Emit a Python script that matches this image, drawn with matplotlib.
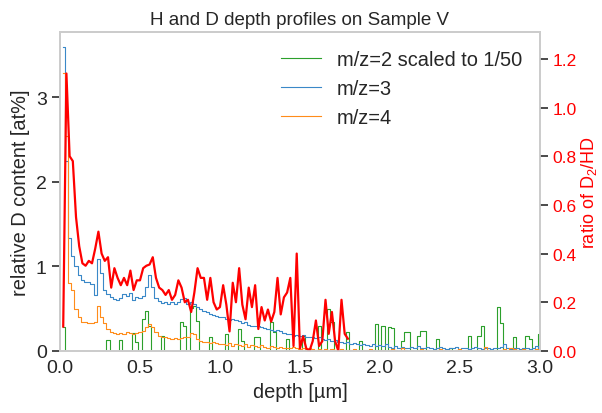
import numpy as np
import matplotlib
matplotlib.use("Agg")
import matplotlib.pyplot as plt

plt.rcParams['font.family'] = ['Liberation Sans', 'DejaVu Sans']
plt.rcParams['font.size'] = 14
plt.rcParams['mathtext.fontset'] = 'custom'
plt.rcParams['mathtext.rm'] = 'Liberation Sans'
plt.rcParams['text.color'] = '#262626'
plt.rcParams['axes.labelcolor'] = '#262626'
plt.rcParams['xtick.color'] = '#262626'
plt.rcParams['ytick.color'] = '#262626'

# depth bins (um), 0.02 um wide
depth = np.round(np.arange(1, 151) * 0.02, 2)

# m/z=3 (relative D content, at%)
mz3 = [3.59, 2.25, 1.34, 1.12, 1.00, 0.90, 0.84, 0.82, 0.81, 0.79,
       0.66, 1.09, 0.92, 0.72, 0.67, 0.64, 0.61, 0.60, 0.62, 0.67,
       0.65, 0.68, 0.60, 0.64, 0.62, 0.65, 0.76, 0.90, 0.75, 0.62,
       0.59, 0.57, 0.58, 0.56, 0.58, 0.56, 0.58, 0.61, 0.63, 0.56,
       0.58, 0.55, 0.52, 0.49, 0.47, 0.46, 0.44, 0.42, 0.41, 0.40,
       0.40, 0.38, 0.37, 0.38, 0.36, 0.35, 0.33, 0.34, 0.31, 0.30,
       0.29, 0.30, 0.28, 0.27, 0.26, 0.25, 0.24, 0.25, 0.23, 0.21,
       0.20, 0.20, 0.18, 0.19, 0.18, 0.19, 0.17, 0.16, 0.17, 0.15,
       0.16, 0.14, 0.13, 0.14, 0.12, 0.13, 0.11, 0.10, 0.09, 0.10,
       0.08, 0.09, 0.08, 0.07, 0.08, 0.07, 0.06, 0.08, 0.06, 0.07,
       0.06, 0.08, 0.05, 0.04, 0.06, 0.03, 0.05, 0.04, 0.03, 0.05,
       0.04, 0.06, 0.03, 0.04, 0.05, 0.03, 0.02, 0.04, 0.05, 0.03,
       0.02, 0.04, 0.03, 0.05, 0.02, 0.03, 0.04, 0.02, 0.03, 0.05,
       0.03, 0.02, 0.04, 0.03, 0.02, 0.04, 0.03, 0.05, 0.08, 0.03,
       0.02, 0.04, 0.03, 0.02, 0.03, 0.04, 0.02, 0.03, 0.06, 0.03]

# m/z=4
mz4 = [3.29, 2.54, 0.80, 0.72, 0.50, 0.40, 0.34, 0.34, 0.33, 0.33,
       0.34, 0.53, 0.40, 0.33, 0.26, 0.22, 0.21, 0.20, 0.21, 0.20,
       0.22, 0.21, 0.20, 0.21, 0.22, 0.24, 0.28, 0.32, 0.28, 0.22,
       0.18, 0.17, 0.16, 0.15, 0.14, 0.15, 0.14, 0.15, 0.16, 0.17,
       0.21, 0.20, 0.14, 0.12, 0.11, 0.10, 0.09, 0.10, 0.09, 0.08,
       0.08, 0.07, 0.09, 0.06, 0.08, 0.07, 0.06, 0.08, 0.05, 0.07,
       0.06, 0.05, 0.07, 0.05, 0.04, 0.06, 0.05, 0.04, 0.05, 0.03,
       0.04, 0.03, 0.05, 0.03, 0.02, 0.03, 0.02, 0.03, 0.02, 0.01,
       0.02, 0.01, 0.02, 0.01, 0.02, 0.01, 0.01, 0.02, 0.01, 0.01,
       0.01, 0.02, 0.01, 0.00, 0.01, 0.01, 0.02, 0.01, 0.00, 0.01,
       0.01, 0.00, 0.01, 0.02, 0.01, 0.00, 0.03, 0.01, 0.00, 0.01,
       0.00, 0.01, 0.02, 0.00, 0.01, 0.00, 0.01, 0.00, 0.02, 0.01,
       0.00, 0.01, 0.00, 0.01, 0.02, 0.00, 0.01, 0.00, 0.01, 0.00,
       0.01, 0.00, 0.05, 0.01, 0.00, 0.01, 0.00, 0.01, 0.02, 0.00,
       0.03, 0.02, 0.01, 0.00, 0.02, 0.01, 0.00, 0.01, 0.02, 0.01]

# m/z=2, already scaled to 1/50
mz2 = [0.28, 0, 0, 0, 0, 0, 0, 0, 0, 0,
       0, 0, 0, 0, 0.13, 0, 0, 0, 0.13, 0,
       0, 0, 0.21, 0.11, 0, 0.38, 0.47, 0.30, 0, 0,
       0, 0.18, 0, 0, 0, 0, 0, 0.34, 0.30, 0,
       0.51, 0.53, 0.35, 0, 0, 0, 0.16, 0, 0, 0,
       0, 0.20, 0, 0, 0, 0.26, 0.12, 0, 0, 0,
       0.16, 0.16, 0, 0, 0, 0.34, 0.22, 0, 0, 0,
       0.14, 0, 0, 0, 0, 0.18, 0, 0, 0, 0,
       0.30, 0, 0, 0.50, 0.34, 0, 0, 0, 0, 0.22,
       0, 0, 0, 0.12, 0, 0, 0, 0, 0.32, 0,
       0.30, 0, 0.28, 0.27, 0, 0, 0.12, 0.22, 0.22, 0,
       0, 0.18, 0.23, 0.23, 0, 0, 0, 0.14, 0, 0,
       0, 0.04, 0, 0, 0, 0, 0, 0.18, 0, 0,
       0.18, 0.29, 0, 0, 0, 0, 0.52, 0.33, 0, 0,
       0, 0.16, 0, 0, 0, 0.18, 0.14, 0, 0, 0.20]

# ratio D2/HD (right axis), first 90 bins
ratio = [0.10, 1.14, 0.80, 0.78, 0.55, 0.43, 0.36, 0.35, 0.37, 0.36,
         0.42, 0.49, 0.40, 0.37, 0.385, 0.26, 0.34, 0.30, 0.27, 0.30,
         0.27, 0.33, 0.25, 0.29, 0.29, 0.34, 0.35, 0.355, 0.385, 0.30,
         0.26, 0.25, 0.23, 0.25, 0.21, 0.23, 0.29, 0.26, 0.20, 0.21,
         0.16, 0.24, 0.34, 0.30, 0.30, 0.21, 0.30, 0.20, 0.17, 0.18,
         0.27, 0.19, 0.08, 0.28, 0.20, 0.34, 0.19, 0.13, 0.26, 0.18,
         0.27, 0.09, 0.18, 0.125, 0.17, 0.12, 0.16, 0.30, 0.15, 0.22,
         0.24, 0.30, 0.02, 0.40, 0.01, 0.06, 0.01, 0.00, 0.04, 0.125,
         0.02, 0.04, 0.21, 0.07, 0.16, 0.04, 0.00, 0.21, 0.07, 0.05]

fig = plt.figure(figsize=(6.02, 4.14), dpi=100)
ax = fig.add_axes([0.0997, 0.150, 0.7970, 0.770])
ax2 = ax.twinx()

ax.step(depth, mz2, where="mid", color="#2ca02c", lw=0.8, label="m/z=2 scaled to 1/50")
ax.step(depth, mz3, where="mid", color="#3a88c8", lw=0.8, label="m/z=3")
ax.step(depth, mz4, where="mid", color="#ff8c1a", lw=0.8, label="m/z=4")
ax2.plot(depth[:len(ratio)], ratio, color="red", lw=1.6)

ax.set_xlim(0, 3.0)
ax.set_ylim(0, 3.77)
ax2.set_ylim(0, 1.31)
ax.set_yticks([0, 1, 2, 3])
ax2.set_yticks(np.arange(0, 1.21, 0.2))

ax.set_xlabel("depth [µm]", fontsize=14.4)
ax.set_ylabel("relative D content [at%]", fontsize=14.4)
ax2.set_ylabel("ratio of D$_2$/HD", color="red", fontsize=13, labelpad=2)
ax.set_title("H and D depth profiles on Sample V", fontsize=13.5)

for a in (ax, ax2):
    for s in a.spines.values():
        s.set_color("#cccccc")
        s.set_linewidth(1.25)
ax.tick_params(axis="x", length=0, pad=6, labelsize=14)
ax.tick_params(axis="y", length=6, width=1.25, color="#333333", labelsize=14)
ax2.tick_params(axis="y", length=6, width=1.25, color="#333333", labelsize=12.5,
                labelcolor="red", pad=3)

ax.legend(loc="upper right", frameon=False, fontsize=14.4)

fig.savefig("out.png", dpi=100)
